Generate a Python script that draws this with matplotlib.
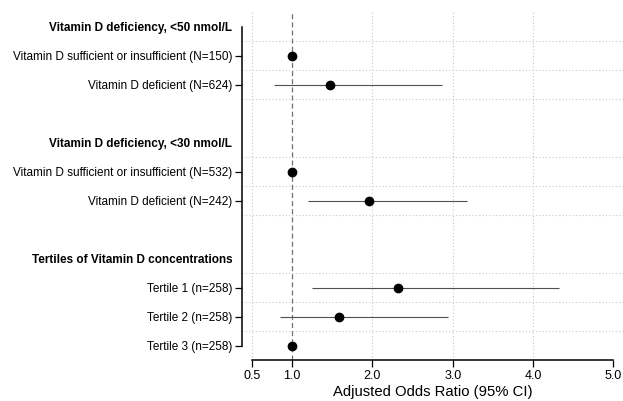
import matplotlib
matplotlib.use('Agg')
import matplotlib.pyplot as plt
import numpy as np

plt.rcParams['font.family'] = ['Liberation Sans', 'DejaVu Sans']

# row labels, top to bottom (headers have no estimate)
labels = [
    "Vitamin D deficiency, <50 nmol/L",
    "Vitamin D sufficient or insufficient (N=150)",
    "Vitamin D deficient (N=624)",
    "Vitamin D deficiency, <30 nmol/L",
    "Vitamin D sufficient or insufficient (N=532)",
    "Vitamin D deficient (N=242)",
    "Tertiles of Vitamin D concentrations",
    "Tertile 1 (n=258)",
    "Tertile 2 (n=258)",
    "Tertile 3 (n=258)",
]
row_pos = [0, 1, 2, 4, 5, 6, 8, 9, 10, 11]
is_header = [True, False, False, True, False, False, True, False, False, False]

odds = [np.nan, 1.0, 1.475, np.nan, 1.0, 1.96, np.nan, 2.32, 1.58, 1.0]
ci_lo = [np.nan, np.nan, 0.77, np.nan, np.nan, 1.20, np.nan, 1.245, 0.85, np.nan]
ci_hi = [np.nan, np.nan, 2.86, np.nan, np.nan, 3.18, np.nan, 4.32, 2.94, np.nan]

xticks = [0.5, 1.0, 2.0, 3.0, 4.0, 5.0]
xtick_labels = ["0.5", "1.0", "2.0", "3.0", "4.0", "5.0"]

fig = plt.figure(figsize=(6.23, 4.01), dpi=100)
ax = fig.add_axes([242 / 623, 1 - 360 / 401, (623 - 242) / 623, (360 - 12) / 401])

y = np.array(row_pos, dtype=float)
odds = np.array(odds)
ci_lo = np.array(ci_lo)
ci_hi = np.array(ci_hi)

# grid lines
for xg in [0.5, 2.0, 3.0, 4.0]:
    ax.axvline(xg, color='#c8c8c8', lw=0.8, ls=(0, (1, 2)), zorder=0)
data_rows = [p for p, h in zip(row_pos, is_header) if not h]
hgrid = sorted(set([p - 0.5 for p in data_rows] + [p + 0.5 for p in data_rows if p + 0.5 < 11.5]))
for yg in hgrid:
    ax.axhline(yg, color='#c8c8c8', lw=0.8, ls=(0, (1, 2)), zorder=0)

ax.axvline(1.0, color='#707070', lw=0.9, ls=(0, (4, 2.5)), zorder=1)

ax.hlines(y, ci_lo, ci_hi, color='#505050', lw=0.8, zorder=2)
ax.plot(odds, y, 'o', color='black', ms=6, zorder=3)

ax.set_xlim(0.375, 5.12)
ax.set_ylim(11.5, -0.5)

ax.set_yticks(row_pos)
ax.set_yticklabels(labels, fontsize=8.5, color='black')
for tick, h in zip(ax.yaxis.get_major_ticks(), is_header):
    if h:
        tick.tick1line.set_visible(False)
        tick.label1.set_fontweight('bold')

ax.set_xticks(xticks)
ax.set_xticklabels(xtick_labels, fontsize=9, color='black')
ax.tick_params(axis='y', length=5, width=0.9, pad=2)
ax.tick_params(axis='x', length=5, width=0.9, pad=2)

for s in ['top', 'right']:
    ax.spines[s].set_visible(False)
ax.spines['left'].set_bounds(0, 11)
ax.spines['bottom'].set_bounds(0.5, 5.0)
ax.spines['left'].set_linewidth(1.1)
ax.spines['bottom'].set_linewidth(1.1)

ax.set_xlabel("Adjusted Odds Ratio (95% CI)", fontsize=10.7, labelpad=2.5, color='black')

plt.savefig('out.png', dpi=100)
